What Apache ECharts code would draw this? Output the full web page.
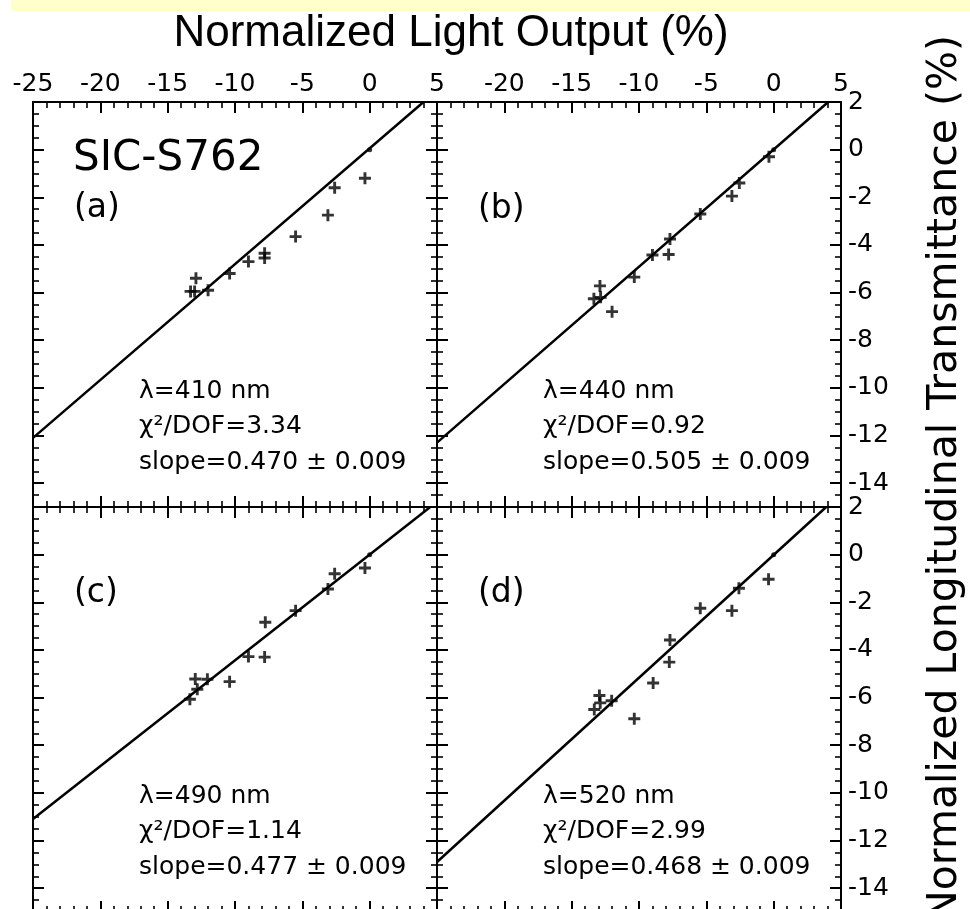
<!DOCTYPE html>
<html>
<head>
<meta charset="utf-8">
<script src="https://cdn.jsdelivr.net/npm/echarts@6/dist/echarts.min.js"></script>
<style>
  html, body { margin: 0; padding: 0; background: #fff; }
  #main { width: 970px; height: 909px; }
</style>
</head>
<body>
<div id="main"></div>
<script>
// light output (x) and longitudinal transmittance (y), in %
const lightA = [-0.35, -2.6, -3.1, -5.5, -7.8, -7.8, -9.0, -10.4, -12.0, -12.9, -13.3, -13.0]
const transA = [-1.2, -1.6, -2.75, -3.65, -4.35, -4.55, -4.7, -5.2, -5.9, -5.4, -5.95, -5.95]

const lightB = [-0.35, -2.55, -3.1, -5.45, -7.7, -7.8, -9.0, -10.35, -12.0, -12.9, -12.85, -13.35]
const transB = [-0.3, -1.4, -1.95, -2.7, -3.75, -4.4, -4.42, -5.35, -6.8, -5.72, -6.2, -6.26]

const lightC = [-0.35, -2.6, -3.1, -5.5, -7.75, -7.8, -9.0, -10.4, -12.05, -12.95, -12.8, -13.35]
const transC = [-0.56, -0.8, -1.44, -2.35, -2.84, -4.3, -4.28, -5.33, -5.23, -5.22, -5.65, -6.07]

const lightD = [-0.38, -2.58, -3.1, -5.45, -7.7, -7.75, -8.95, -10.35, -12.03, -12.94, -12.88, -13.32]
const transD = [-1.03, -1.41, -2.35, -2.25, -3.58, -4.51, -5.39, -6.89, -6.13, -5.91, -6.22, -6.5]

// normalisation point
const origin = [[0, 0]]

// fitted lines, end points
const fitA = [[-25, -12.1], [4.0, 2]]
const fitB = [[-25, -12.3], [4.05, 2]]
const fitC = [[-25, -11.1], [4.5, 2]]
const fitD = [[-25, -12.9], [3.9, 2]]

const tags = ['(a)', '(b)', '(c)', '(d)']
const statsA = ['λ=410 nm', 'χ²/DOF=3.34', 'slope=0.470 ± 0.009']
const statsB = ['λ=440 nm', 'χ²/DOF=0.92', 'slope=0.505 ± 0.009']
const statsC = ['λ=490 nm', 'χ²/DOF=1.14', 'slope=0.477 ± 0.009']
const statsD = ['λ=520 nm', 'χ²/DOF=2.99', 'slope=0.468 ± 0.009']

const yMajor = [2, 0, -2, -4, -6, -8, -10, -12, -14]
const xTitle = 'Normalized Light Output (%)'
const yTitle = 'Normalized Longitudinal Transmittance (%)'

const FONT = '"DejaVu Sans"'
const BLACK = '#000'
const W = 404
const H = 405

// minor ticks on y every 0.5
const yMinor = []
for (let v = -15; v <= 2; v += 0.5) {
  if (!yMajor.includes(v)) yMinor.push(v)
}

const panels = [
  { left: 33, top: 102, light: lightA, trans: transA, fit: fitA, stats: statsA, xLabels: true, skipMin: false, yLabels: false, tagDy: 106 },
  { left: 437, top: 102, light: lightB, trans: transB, fit: fitB, stats: statsB, xLabels: true, skipMin: true, yLabels: true, tagDy: 107 },
  { left: 33, top: 507, light: lightC, trans: transC, fit: fitC, stats: statsC, xLabels: false, skipMin: false, yLabels: false, tagDy: 86 },
  { left: 437, top: 507, light: lightD, trans: transD, fit: fitD, stats: statsD, xLabels: false, skipMin: false, yLabels: true, tagDy: 86 }
]

// "+" marker
const PLUS = 'path://M3.8,0H6.2V3.8H10V6.2H6.2V10H3.8V6.2H0V3.8H3.8Z'

const grid = []
const xAxis = []
const yAxis = []
const series = []
const graphic = [
  { type: 'rect', shape: { x: 11, y: 0, width: 959, height: 11 }, style: { fill: '#ffffcc' }, silent: true },
  {
    type: 'text', x: 451, y: 34, silent: true,
    style: { text: xTitle, font: '44px "Liberation Sans"', fill: BLACK, align: 'center', verticalAlign: 'middle' }
  },
  {
    type: 'text', x: 945, y: 478, rotation: Math.PI / 2, silent: true,
    style: { text: yTitle, font: '41px ' + FONT, fill: BLACK, align: 'center', verticalAlign: 'middle' }
  }
]

const lineStyle = { color: BLACK, width: 2 }
const minorStyle = { color: BLACK, width: 1.6 }

panels.forEach((p, i) => {
  grid.push({ left: p.left, top: p.top, width: W, height: H, containLabel: false, outerBoundsMode: 'none' })

  ;['top', 'bottom'].forEach(pos => {
    xAxis.push({
      type: 'value',
      gridIndex: i,
      position: pos,
      min: -25,
      max: 5,
      interval: 5,
      axisLine: { onZero: false, lineStyle },
      axisTick: { inside: true, length: 11, lineStyle },
      minorTick: { show: true, splitNumber: 5, length: 6, lineStyle: minorStyle },
      splitLine: { show: false },
      minorSplitLine: { show: false },
      axisLabel: {
        show: pos === 'top' && p.xLabels,
        margin: 5,
        showMinLabel: true,
        showMaxLabel: true,
        color: BLACK,
        fontFamily: FONT,
        fontSize: 25,
        formatter: v => (p.skipMin && v === -25 ? '' : String(v))
      }
    })
  })

  ;['left', 'right'].forEach(pos => {
    // major ticks (and labels on the right side)
    yAxis.push({
      type: 'value',
      gridIndex: i,
      position: pos,
      min: -15,
      max: 2,
      axisLine: { onZero: false, lineStyle },
      axisTick: { inside: true, length: 11, lineStyle, customValues: yMajor },
      splitLine: { show: false },
      axisLabel: {
        show: pos === 'right' && p.yLabels,
        customValues: yMajor,
        margin: 7,
        color: BLACK,
        fontFamily: FONT,
        fontSize: 25
      }
    })
    // minor ticks
    yAxis.push({
      type: 'value',
      gridIndex: i,
      position: pos,
      min: -15,
      max: 2,
      axisLine: { show: false, onZero: false },
      axisTick: { inside: true, length: 6, lineStyle: minorStyle, customValues: yMinor },
      splitLine: { show: false },
      axisLabel: { show: false }
    })
  })

  const xi = i * 2
  const yi = i * 4

  series.push({
    type: 'line',
    xAxisIndex: xi,
    yAxisIndex: yi,
    data: p.fit,
    showSymbol: false,
    symbol: 'none',
    lineStyle: { color: BLACK, width: 2.5 },
    silent: true,
    z: 2
  })
  series.push({
    type: 'scatter',
    xAxisIndex: xi,
    yAxisIndex: yi,
    data: p.light.map((x, k) => [x, p.trans[k]]),
    symbol: PLUS,
    symbolSize: 12,
    itemStyle: { color: BLACK },
    silent: true,
    z: 3
  })
  series.push({
    type: 'scatter',
    xAxisIndex: xi,
    yAxisIndex: yi,
    data: origin,
    symbol: 'circle',
    symbolSize: 5,
    itemStyle: { color: BLACK },
    silent: true,
    z: 3
  })

  // panel tag
  graphic.push({
    type: 'text', x: p.left + 41, y: p.top + p.tagDy, silent: true,
    style: { text: tags[i], font: '33px ' + FONT, fill: BLACK, align: 'left', verticalAlign: 'middle' }
  })
  // fit results
  p.stats.forEach((s, k) => {
    graphic.push({
      type: 'text', x: p.left + 106, y: p.top + 289 + k * 35.5, silent: true,
      style: { text: s, font: '25px ' + FONT, fill: BLACK, align: 'left', verticalAlign: 'middle' }
    })
  })
})

graphic.push({
  type: 'text', x: 73, y: 159, silent: true,
  style: { text: 'SIC-S762', font: '42px ' + FONT, fill: BLACK, align: 'left', verticalAlign: 'middle' }
})

const chart = echarts.init(document.getElementById('main'))
chart.setOption({
  animation: false,
  backgroundColor: '#fff',
  grid,
  xAxis,
  yAxis,
  series,
  graphic
})
</script>
</body>
</html>
